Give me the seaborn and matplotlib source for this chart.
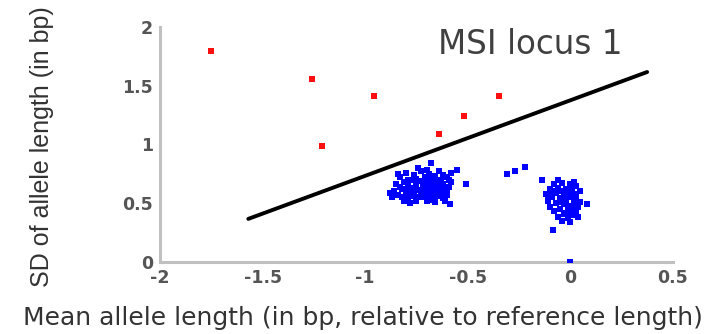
import seaborn as sns
import matplotlib.pyplot as plt

# red points (above the threshold line)
red_x = [-1.75, -1.26, -0.956, -1.21, -0.64, -0.517, -0.346]
red_y = [1.80, 1.56, 1.41, 0.99, 1.09, 1.24, 1.41]

# blue points: main cluster around -0.7
blue_mid_x = [-0.86, -0.84, -0.82, -0.85, -0.83, -0.80, -0.81, -0.80, -0.79, -0.78,
              -0.77, -0.76, -0.76, -0.75, -0.75, -0.74, -0.73, -0.73, -0.72, -0.72,
              -0.71, -0.71, -0.70, -0.70, -0.69, -0.69, -0.68, -0.68, -0.67, -0.67,
              -0.66, -0.66, -0.65, -0.65, -0.64, -0.64, -0.63, -0.63, -0.62, -0.62,
              -0.61, -0.60, -0.60, -0.59, -0.58, -0.58, -0.55, -0.51, -0.585, -0.68,
              -0.88, -0.87, -0.78, -0.74, -0.70, -0.66, -0.61, -0.84, -0.81, -0.77,
              -0.73, -0.69, -0.65, -0.62, -0.79, -0.75, -0.71, -0.67, -0.63,
              -0.82, -0.78, -0.74, -0.70, -0.66, -0.62, -0.80, -0.76, -0.72, -0.68,
              -0.64, -0.60, -0.83, -0.79, -0.75, -0.71, -0.67, -0.63, -0.59]
blue_mid_y = [0.60, 0.57, 0.62, 0.66, 0.72, 0.76, 0.68, 0.58, 0.54, 0.63,
              0.70, 0.74, 0.57, 0.52, 0.66, 0.61, 0.77, 0.69, 0.55, 0.64,
              0.59, 0.72, 0.52, 0.67, 0.62, 0.75, 0.57, 0.70, 0.65, 0.53,
              0.60, 0.73, 0.68, 0.56, 0.63, 0.77, 0.59, 0.70, 0.54, 0.66,
              0.61, 0.72, 0.57, 0.64, 0.68, 0.76, 0.78, 0.66, 0.49, 0.84,
              0.59, 0.55, 0.50, 0.80, 0.78, 0.51, 0.52, 0.75, 0.52, 0.60,
              0.58, 0.65, 0.62, 0.74, 0.66, 0.71, 0.63, 0.58, 0.66,
              0.55, 0.56, 0.55, 0.56, 0.55, 0.58, 0.61, 0.62, 0.60, 0.61,
              0.59, 0.62, 0.64, 0.70, 0.68, 0.67, 0.69, 0.62, 0.70]

# blue points: strays between clusters
blue_gap_x = [-0.31, -0.27, -0.22, -0.14]
blue_gap_y = [0.75, 0.77, 0.81, 0.70]

# blue points: cluster around 0
blue_zero_x = [-0.12, -0.11, -0.10, -0.10, -0.09, -0.08, -0.08, -0.07, -0.07, -0.06,
               -0.06, -0.05, -0.05, -0.04, -0.04, -0.03, -0.03, -0.03, -0.02, -0.02,
               -0.01, -0.01, 0.00, 0.00, 0.00, 0.01, 0.01, 0.02, 0.02, 0.03,
               0.03, 0.04, 0.04, 0.05, 0.05, 0.083, -0.083, 0.00, -0.09, -0.06,
               0.02, -0.11, 0.00, -0.02, 0.03, -0.05, -0.01, 0.02, -0.04, 0.01]
blue_zero_y = [0.58, 0.52, 0.62, 0.47, 0.55, 0.66, 0.43, 0.59, 0.50, 0.38,
               0.63, 0.54, 0.45, 0.67, 0.35, 0.58, 0.49, 0.41, 0.62, 0.53,
               0.44, 0.37, 0.66, 0.57, 0.48, 0.40, 0.61, 0.52, 0.45, 0.65,
               0.56, 0.47, 0.38, 0.60, 0.51, 0.49, 0.27, 0.00, 0.60, 0.70,
               0.68, 0.56, 0.34, 0.42, 0.43, 0.60, 0.55, 0.58, 0.51, 0.47]

# threshold line
line_x = [-1.57, 0.375]
line_y = [0.366, 1.617]

x_ticks = [-2, -1.5, -1, -0.5, 0, 0.5]
x_labels = ['-2', '-1.5', '-1', '-0.5', '0', '0.5']
y_ticks = [0, 0.5, 1, 1.5, 2]
y_labels = ['0', '0.5', '1', '1.5', '2']

sns.set_style('white')
fig = plt.figure(figsize=(7.18, 3.34), dpi=100)
ax = fig.add_axes([0.223, 0.216, 0.714, 0.703])

blue_x = blue_mid_x + blue_gap_x + blue_zero_x
blue_y = blue_mid_y + blue_gap_y + blue_zero_y
sns.scatterplot(x=blue_x, y=blue_y, color='#0000ff', marker='s', s=20,
                linewidth=0, ax=ax, zorder=3)
sns.scatterplot(x=red_x, y=red_y, color='#ff1010', marker='s', s=15,
                linewidth=0, ax=ax, zorder=3)
sns.lineplot(x=line_x, y=line_y, color='black', linewidth=2.8, sort=False,
             ax=ax, zorder=4)

ax.set_xlim(-2, 0.5)
ax.set_ylim(0, 2)
ax.set_xticks(x_ticks)
ax.set_xticklabels(x_labels)
ax.set_yticks(y_ticks)
ax.set_yticklabels(y_labels)
ax.tick_params(direction='in', length=2, width=1, color='#999999',
               labelcolor='#555555', labelsize=12.5, pad=5)
for lab in ax.get_xticklabels() + ax.get_yticklabels():
    lab.set_fontweight('bold')

sns.despine(ax=ax)
for side in ['left', 'bottom']:
    ax.spines[side].set_color('#c0c0c0')
    ax.spines[side].set_linewidth(2.2)

ax.set_ylabel('SD of allele length (in bp)', fontsize=18, color='#333333',
              family='Liberation Sans', ha='center', va='center')
ax.yaxis.set_label_coords(-0.23, 0.49)
ax.set_xlabel('Mean allele length (in bp, relative to reference length)',
              fontsize=18, color='#333333', family='DejaVu Sans',
              ha='center', va='center')
ax.xaxis.set_label_coords(0.396, -0.238)

ax.text(0.542, 0.885, 'MSI locus 1', transform=ax.transAxes, fontsize=23.5,
        color='#404040', family='DejaVu Sans', ha='left', va='baseline')

fig.savefig('out.png', dpi=100)
